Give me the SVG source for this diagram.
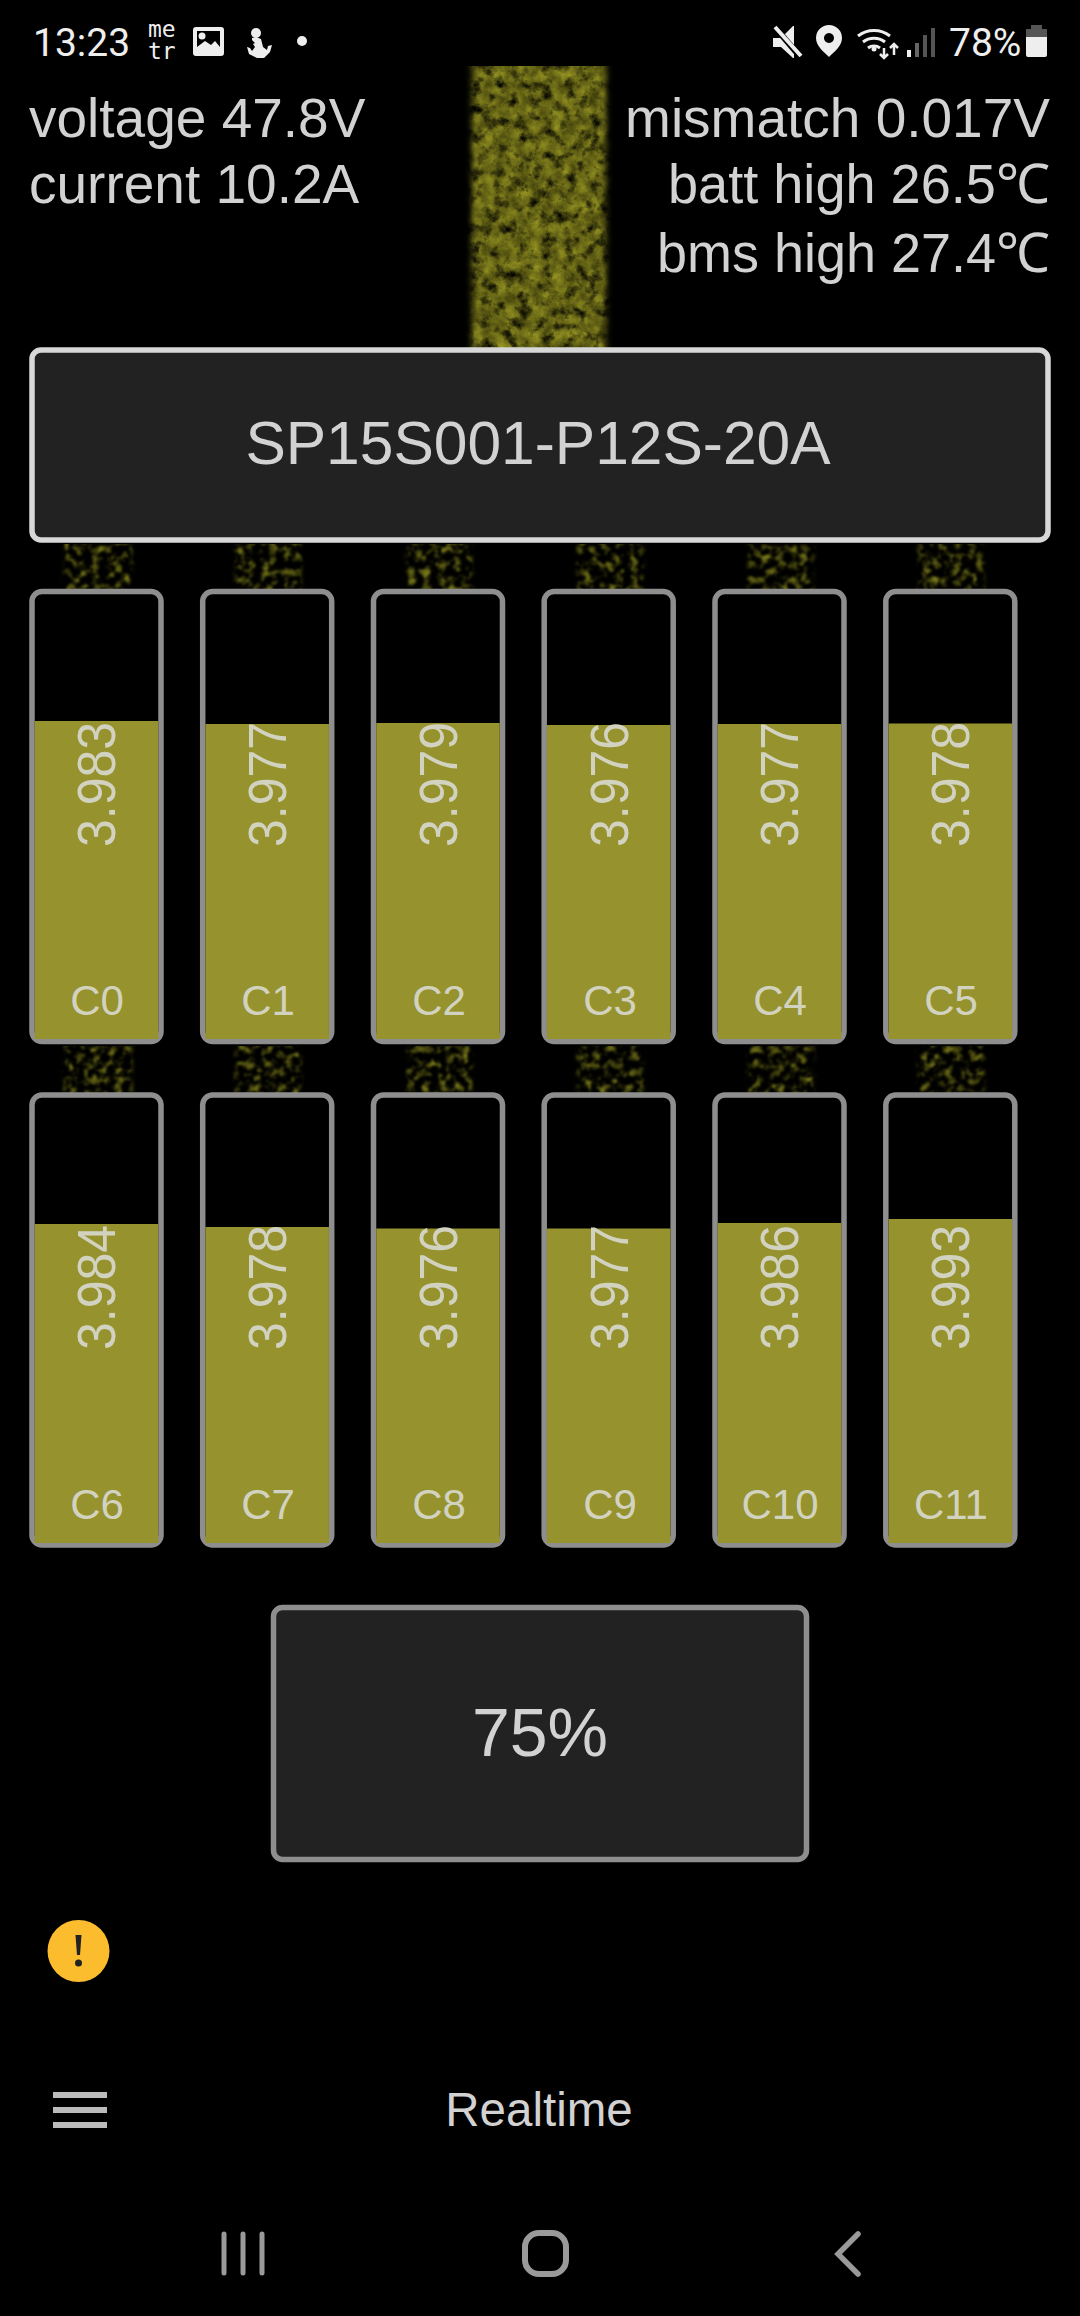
<svg xmlns="http://www.w3.org/2000/svg" width="1080" height="2316" viewBox="0 0 1080 2316">
<style>
text{font-family:"Liberation Sans",Arial,sans-serif;fill:#d2d2d2}
.st{font-family:Roboto,"Liberation Sans",sans-serif;font-size:39px;fill:#eee}
.mono{font-family:"DejaVu Sans Mono",monospace;font-size:23px;fill:#eee}
.info{font-size:55px}
.r{text-anchor:end}
.cell{fill:#000;stroke:#8e8e8e;stroke-width:5.5}
.lvl{fill:#96922e}
.val{font-size:50px;fill:#d2d2c0}
.lab{font-size:42px;fill:#d2d2c0;text-anchor:middle}
.box{fill:#222;stroke-width:5.5}
.nav{fill:none;stroke:#9a9a9a;stroke-linecap:round}
.spark{fill:#8f8c20}
</style>
<defs>
<filter id="big" filterUnits="userSpaceOnUse" x="455" y="66" width="170" height="282" color-interpolation-filters="sRGB">
<feTurbulence type="fractalNoise" baseFrequency="0.085" numOctaves="5" seed="7" result="n"/>
<feColorMatrix in="n" type="matrix" values="0 0.45 0 0 0.2  0 0.45 0 0 0.195  0 0.12 0 0 0.03  2.6 0 0 0 -0.35" result="c"/>
<feGaussianBlur in="c" stdDeviation="0.7" result="b"/>
<feGaussianBlur in="SourceGraphic" stdDeviation="3 0" result="s"/>
<feComposite in="b" in2="s" operator="in"/>
</filter>
<filter id="small" filterUnits="userSpaceOnUse" x="0" y="540" width="1080" height="560" color-interpolation-filters="sRGB">
<feTurbulence type="fractalNoise" baseFrequency="0.13" numOctaves="3" seed="11" result="n"/>
<feColorMatrix in="n" type="matrix" values="0 0.5 0 0 0.1  0 0.5 0 0 0.1  0 0.12 0 0 0.01  4 0 0 0 -1.85" result="c"/>
<feGaussianBlur in="c" stdDeviation="1" result="b"/>
<feGaussianBlur in="SourceGraphic" stdDeviation="2 0" result="s"/>
<feComposite in="b" in2="s" operator="in"/>
</filter>
</defs>
<rect width="1080" height="2316" fill="#000"/>

<g id="status-bar">
<text class="st" x="33" y="56">13:23</text>
<text class="mono" x="148" y="37">me</text>
<text class="mono" x="148" y="59">tr</text>
<path fill="#eee" fill-rule="evenodd" d="M196 27h25a3 3 0 0 1 3 3v23a3 3 0 0 1-3 3h-25a3 3 0 0 1-3-3V30a3 3 0 0 1 3-3zM197 31v16l8-6 6 4 4-4 5 6V31z"/>
<circle cx="202" cy="36" r="3.5" fill="#eee"/>
<circle cx="256" cy="33" r="5" fill="#eee"/>
<path fill="#eee" d="M252 38l4-1 5 2 2 8 4 3 1-4 4-1-2 7-6 6h-7l-8-4-2-7 3 1 2 3 3-4-2-3 2-1-3-3z"/>
<circle cx="302" cy="41" r="5" fill="#eee"/>
<path fill="#eee" d="M773 38h8l12-12h1v32h-1l-12-11h-8z"/>
<path stroke="#000" stroke-width="6" d="M773 25l30 35"/>
<path stroke="#eee" stroke-width="4" d="M775 27l26 29"/>
<path fill="#eee" fill-rule="evenodd" d="M829 25a13 13 0 0 1 13 13c0 8-8 14-13 19-5-5-13-11-13-19a13 13 0 0 1 13-13zM829 33a5 5 0 1 0 .01 0z"/>
<path fill="none" stroke="#eee" stroke-width="3" d="M858 36a26 26 0 0 1 32 0M863 42a18 18 0 0 1 22 0M868 48a10 10 0 0 1 12 0"/>
<circle cx="874" cy="49" r="2.5" fill="#eee"/>
<path fill="none" stroke="#eee" stroke-width="2.5" d="M884 48v10M880 54l4 4 4-4M894 55V44M890 48l4-4 4 4"/>
<rect x="907" y="50" width="4" height="7" fill="#eee"/>
<rect x="915" y="43" width="4" height="14" fill="#666"/>
<rect x="923" y="35" width="4" height="22" fill="#555"/>
<rect x="931" y="28" width="4" height="29" fill="#555"/>
<text class="st" x="949" y="56">78%</text>
<path fill="#555" d="M1031 25h11v4h5v8h-21v-8h5z"/>
<path fill="#eee" d="M1026 37h21v18a2 2 0 0 1-2 2h-17a2 2 0 0 1-2-2z"/>
</g>

<rect id="main-stream" class="spark" filter="url(#big)" x="472" y="66" width="134" height="282"/>

<g id="info-left">
<text class="info" x="29" y="137">voltage 47.8V</text>
<text class="info" x="29" y="203">current 10.2A</text>
</g>
<g id="info-right">
<text class="info r" x="1050" y="137">mismatch 0.017V</text>
<text class="info r" x="1050" y="203" textLength="382" lengthAdjust="spacingAndGlyphs">batt high 26.5℃</text>
<text class="info r" x="1050" y="272" textLength="393" lengthAdjust="spacingAndGlyphs">bms high 27.4℃</text>
</g>

<g id="streams" filter="url(#small)">
<rect class="spark" x="64" y="544" width="68" height="46"/>
<rect class="spark" x="235" y="544" width="66" height="46"/>
<rect class="spark" x="406" y="544" width="66" height="46"/>
<rect class="spark" x="577" y="544" width="66" height="46"/>
<rect class="spark" x="748" y="544" width="66" height="46"/>
<rect class="spark" x="918" y="544" width="66" height="46"/>
<rect class="spark" x="64" y="1046" width="68" height="47"/>
<rect class="spark" x="235" y="1046" width="66" height="47"/>
<rect class="spark" x="406" y="1046" width="66" height="47"/>
<rect class="spark" x="577" y="1046" width="66" height="47"/>
<rect class="spark" x="748" y="1046" width="66" height="47"/>
<rect class="spark" x="918" y="1046" width="66" height="47"/>
</g>

<g id="device-box">
<rect class="box" x="32" y="350" width="1016" height="190" rx="9" stroke="#d8d8d8"/>
<text x="538" y="464" font-size="60.5" text-anchor="middle">SP15S001-P12S-20A</text>
</g>

<g id="cell-c0"><rect class="cell" x="32" y="591.5" width="129" height="450" rx="10"/><rect class="lvl" x="34.75" y="721" width="123.5" height="318"/><text class="val" transform="translate(115,847) rotate(-90) scale(1,1.07)">3.983</text><text class="lab" x="97" y="1015">C0</text></g>
<g id="cell-c1"><rect class="cell" x="202.7" y="591.5" width="129" height="450" rx="10"/><rect class="lvl" x="205.45" y="724" width="123.5" height="315"/><text class="val" transform="translate(286,847) rotate(-90) scale(1,1.07)">3.977</text><text class="lab" x="268" y="1015">C1</text></g>
<g id="cell-c2"><rect class="cell" x="373.5" y="591.5" width="129" height="450" rx="10"/><rect class="lvl" x="376.25" y="723" width="123.5" height="316"/><text class="val" transform="translate(457,847) rotate(-90) scale(1,1.07)">3.979</text><text class="lab" x="439" y="1015">C2</text></g>
<g id="cell-c3"><rect class="cell" x="544.2" y="591.5" width="129" height="450" rx="10"/><rect class="lvl" x="546.95" y="725" width="123.5" height="314"/><text class="val" transform="translate(628,847) rotate(-90) scale(1,1.07)">3.976</text><text class="lab" x="610" y="1015">C3</text></g>
<g id="cell-c4"><rect class="cell" x="715" y="591.5" width="129" height="450" rx="10"/><rect class="lvl" x="717.75" y="724" width="123.5" height="315"/><text class="val" transform="translate(798,847) rotate(-90) scale(1,1.07)">3.977</text><text class="lab" x="780" y="1015">C4</text></g>
<g id="cell-c5"><rect class="cell" x="885.8" y="591.5" width="129" height="450" rx="10"/><rect class="lvl" x="888.55" y="723.5" width="123.5" height="315.5"/><text class="val" transform="translate(969,847) rotate(-90) scale(1,1.07)">3.978</text><text class="lab" x="951" y="1015">C5</text></g>

<g id="cell-c6"><rect class="cell" x="32" y="1095" width="129" height="450" rx="10"/><rect class="lvl" x="34.75" y="1224" width="123.5" height="319"/><text class="val" transform="translate(115,1350) rotate(-90) scale(1,1.07)">3.984</text><text class="lab" x="97" y="1519">C6</text></g>
<g id="cell-c7"><rect class="cell" x="202.7" y="1095" width="129" height="450" rx="10"/><rect class="lvl" x="205.45" y="1227" width="123.5" height="316"/><text class="val" transform="translate(286,1350) rotate(-90) scale(1,1.07)">3.978</text><text class="lab" x="268" y="1519">C7</text></g>
<g id="cell-c8"><rect class="cell" x="373.5" y="1095" width="129" height="450" rx="10"/><rect class="lvl" x="376.25" y="1228.5" width="123.5" height="314.5"/><text class="val" transform="translate(457,1350) rotate(-90) scale(1,1.07)">3.976</text><text class="lab" x="439" y="1519">C8</text></g>
<g id="cell-c9"><rect class="cell" x="544.2" y="1095" width="129" height="450" rx="10"/><rect class="lvl" x="546.95" y="1228.5" width="123.5" height="314.5"/><text class="val" transform="translate(628,1350) rotate(-90) scale(1,1.07)">3.977</text><text class="lab" x="610" y="1519">C9</text></g>
<g id="cell-c10"><rect class="cell" x="715" y="1095" width="129" height="450" rx="10"/><rect class="lvl" x="717.75" y="1223" width="123.5" height="320"/><text class="val" transform="translate(798,1350) rotate(-90) scale(1,1.07)">3.986</text><text class="lab" x="780" y="1519">C10</text></g>
<g id="cell-c11"><rect class="cell" x="885.8" y="1095" width="129" height="450" rx="10"/><rect class="lvl" x="888.55" y="1219" width="123.5" height="324"/><text class="val" transform="translate(969,1350) rotate(-90) scale(1,1.07)">3.993</text><text class="lab" x="951" y="1519">C11</text></g>

<g id="soc-box">
<rect class="box" x="273.5" y="1607.5" width="533" height="252" rx="9" stroke="#8e8e8e"/>
<text x="540" y="1756" font-size="68" text-anchor="middle">75%</text>
</g>

<g id="alert">
<circle cx="78.5" cy="1951" r="31" fill="#fbbc2e"/>
<path d="M75.5 1935h6l-1.5 20h-3z" fill="#222"/>
<circle cx="78.5" cy="1963" r="3.5" fill="#222"/>
</g>

<g id="app-bar">
<rect x="53" y="2092" width="54" height="6" fill="#bbb"/>
<rect x="53" y="2107" width="54" height="6" fill="#bbb"/>
<rect x="53" y="2122" width="54" height="6" fill="#bbb"/>
<text x="539" y="2126" font-size="47.5" text-anchor="middle">Realtime</text>
</g>

<g id="nav-bar">
<path class="nav" stroke-width="5" d="M224 2234v39M243 2234v39M262 2234v39"/>
<rect class="nav" x="525" y="2233" width="41" height="41" rx="14" stroke-width="6"/>
<path class="nav" stroke-width="5.5" d="M858 2234l-20 20 20 20"/>
</g>
</svg>
